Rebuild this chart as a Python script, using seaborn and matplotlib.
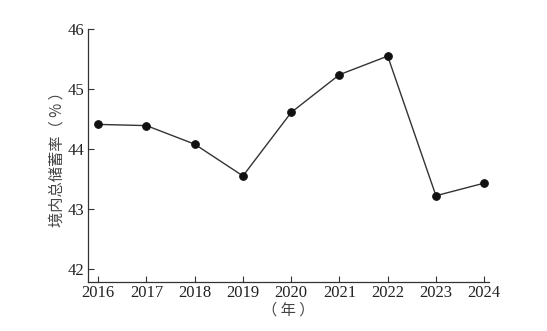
import matplotlib
matplotlib.use("Agg")
import matplotlib.pyplot as plt
import seaborn as sns
import pandas as pd

years = [2016, 2017, 2018, 2019, 2020, 2021, 2022, 2023, 2024]
savings_rate = [44.41, 44.39, 44.08, 43.55, 44.61, 45.24, 45.55, 43.22, 43.43]
y_ticks = [42, 43, 44, 45, 46]
y_label = "境内总储蓄率（ % ）"
x_label = "（ 年 ）"

sns.set_style("ticks")
plt.rcParams['font.family'] = ['Liberation Serif', 'Noto Sans CJK SC', 'DejaVu Sans']
plt.rcParams['xtick.direction'] = 'in'
plt.rcParams['ytick.direction'] = 'in'

df = pd.DataFrame({"year": years, "rate": savings_rate})

fig = plt.figure(figsize=(5.47, 3.31), dpi=100)
ax = fig.add_axes([0.161, 0.148, 0.733, 0.764])
sns.lineplot(data=df, x="year", y="rate", ax=ax, color="#333333", linewidth=1.0,
             marker="o", markersize=5.5, markerfacecolor="#111111",
             markeredgecolor="#111111")

ax.set_xlim(2015.79, 2024.1)
ax.set_ylim(41.78, 46)
ax.set_xticks(years)
ax.set_xticklabels([str(y) for y in years])
ax.set_yticks(y_ticks)
ax.set_yticklabels([str(v) for v in y_ticks])
ax.tick_params(axis='both', labelsize=12, colors='#333333', length=4.5, width=0.8,
               labelcolor='#222222', pad=2.5)
for s in ['top', 'right']:
    ax.spines[s].set_visible(False)
for s in ['left', 'bottom']:
    ax.spines[s].set_color('#333333')
    ax.spines[s].set_linewidth(0.9)

ax.set_ylabel(y_label, fontsize=11, family=['Noto Sans CJK SC', 'DejaVu Sans'],
              color='#444444', labelpad=2)
ax.set_xlabel(x_label, fontsize=11, family=['Noto Sans CJK SC', 'DejaVu Sans'],
              color='#444444', labelpad=0)

fig.savefig("out.png", dpi=100)
